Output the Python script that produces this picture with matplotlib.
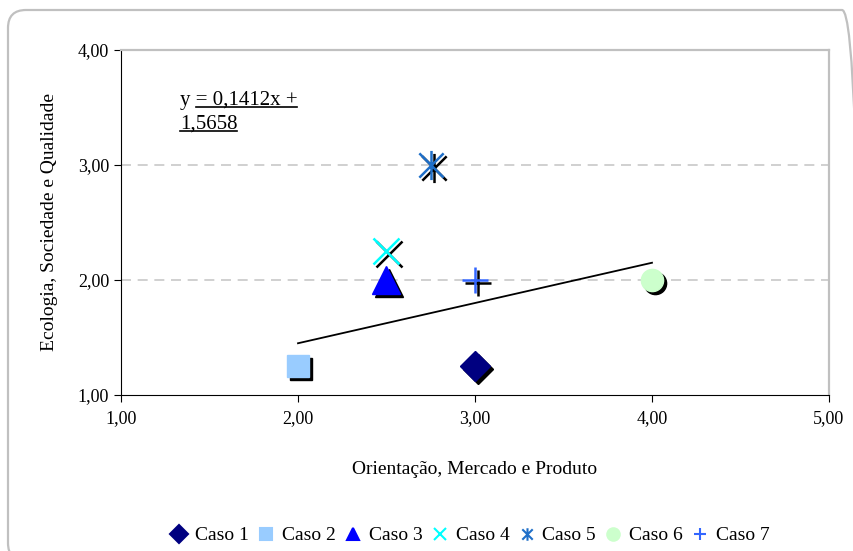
import numpy as np
import matplotlib
matplotlib.use('Agg')
import matplotlib.pyplot as plt
from matplotlib.path import Path
from matplotlib.patches import FancyBboxPatch
from matplotlib.lines import Line2D
import matplotlib.transforms as mtransforms

plt.rcParams['font.family'] = ['Liberation Serif', 'DejaVu Serif']

# ------------------------------------------------------------------------
# dados
casos = ['Caso 1', 'Caso 2', 'Caso 3', 'Caso 4', 'Caso 5', 'Caso 6', 'Caso 7']
orientacao = [3.00, 2.00, 2.50, 2.50, 2.75, 4.00, 3.00]
ecologia = [1.25, 1.25, 2.00, 2.25, 3.00, 2.00, 2.00]
cores = ['#000080', '#99CCFF', '#0000FF', '#00FFFF', '#1F6FC8', '#CCFFCC', '#3366FF']

# linha de tendência (como desenhada no gráfico)
trend_x = [2.00, 4.00]
trend_y = [1.45, 2.15]
equacao = ['y = 0,1412x +', '1,5658']

x_ticks = [1.0, 2.0, 3.0, 4.0, 5.0]
y_ticks = [1.0, 2.0, 3.0, 4.0]
# ------------------------------------------------------------------------
# marcador asterisco (x + barra vertical)
ast = Path([(-0.5, -0.5), (0.5, 0.5), (-0.5, 0.5), (0.5, -0.5), (0, -0.6), (0, 0.6)],
           [Path.MOVETO, Path.LINETO, Path.MOVETO, Path.LINETO, Path.MOVETO, Path.LINETO])

estilos = [
    dict(marker='D', ms=15),
    dict(marker='s', ms=16),
    dict(marker='^', ms=20),
    dict(marker='x', ms=19, mew=1.8),
    dict(marker=ast, ms=21, mew=1.8),
    dict(marker='o', ms=16),
    dict(marker='+', ms=19, mew=1.8),
]

fig = plt.figure(figsize=(8.54, 5.51), dpi=100)
ax = fig.add_axes([0.1417, 0.2831, 0.8290, 0.6262])

# moldura arredondada (coordenadas em pixels)
frame = FancyBboxPatch((8, -10), 852, 551,
                       boxstyle='round,pad=0,rounding_size=18',
                       transform=mtransforms.IdentityTransform(), facecolor='none',
                       edgecolor='#C0C0C0', linewidth=1.6, zorder=0)
fig.patches.append(frame)

sombra = mtransforms.offset_copy(ax.transData, fig=fig, x=3, y=-3, units='dots')

handles = []
for i in range(len(casos)):
    st = estilos[i]
    # sombra preta
    ax.plot(orientacao[i], ecologia[i], linestyle='none', color='black',
            markeredgecolor='black', transform=sombra, zorder=3, **st)
    h, = ax.plot(orientacao[i], ecologia[i], linestyle='none', color=cores[i],
                 markeredgecolor=cores[i], zorder=4, label=casos[i], **st)
    handles.append(h)

ax.plot(trend_x, trend_y, color='black', lw=1.3, zorder=2)

ax.set_xlim(1, 5)
ax.set_ylim(1, 4)
ax.set_xticks(x_ticks)
ax.set_yticks(y_ticks)
ax.set_xticklabels([('%.2f' % v).replace('.', ',') for v in x_ticks], fontsize=13)
ax.set_yticklabels([('%.2f' % v).replace('.', ',') for v in y_ticks], fontsize=13)
ax.tick_params(direction='out', length=5, color='black')
ax.tick_params(axis='x', pad=6)
for s in ['top', 'right']:
    ax.spines[s].set_color('#C0C0C0')
    ax.spines[s].set_linewidth(1.6)
for g in [2.0, 3.0]:
    ax.axhline(g, color='#C8C8C8', linestyle=(0, (6, 4)), lw=1.2, zorder=1)

ax.set_xlabel('Orientação, Mercado e Produto', fontsize=14, labelpad=24)
ax.set_ylabel('Ecologia, Sociedade e Qualidade', fontsize=14, labelpad=14)

# equação sublinhada ("y " não sublinhado, como no original)
fs_eq = 15
t1 = ax.text(0.083, 0.841, equacao[0], transform=ax.transAxes, fontsize=fs_eq, va='baseline')
t2 = ax.text(0.083, 0.771, equacao[1], transform=ax.transAxes, fontsize=fs_eq, va='baseline')
tmp = ax.text(0, 0, 'y ', fontsize=fs_eq)
fig.canvas.draw()
r = fig.canvas.get_renderer()
w_y = tmp.get_window_extent(r).width
tmp.remove()
inv = fig.transFigure.inverted()
for t, skip in ((t1, w_y), (t2, 0)):
    bb = t.get_window_extent(r)
    base = ax.transAxes.transform(t.get_position())[1] - 2
    (x0, y0), (x1, _) = inv.transform([(bb.x0 + skip, base), (bb.x1, base)])
    fig.add_artist(Line2D([x0, x1], [y0, y0], color='black', lw=1.2, transform=fig.transFigure))

leg_handles = [Line2D([], [], linestyle='none', marker=h.get_marker(), color=h.get_color(),
                      markeredgecolor=h.get_color(), ms=9, mew=1.5) for h in handles]
fig.legend(leg_handles, casos, loc='center', bbox_to_anchor=(0.551, 0.028), ncol=7,
           frameon=False, fontsize=14, handlelength=0.8, handletextpad=0.4, columnspacing=0.5)

plt.savefig('out.png', dpi=100)
